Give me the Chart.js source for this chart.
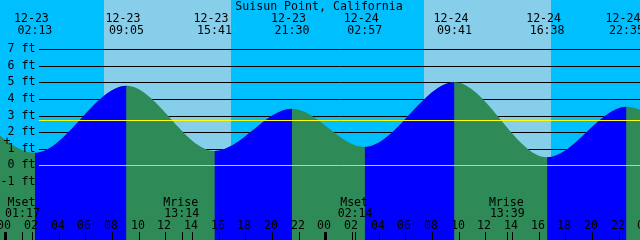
<!DOCTYPE html>
<html>
<head>
<meta charset="utf-8">
<script src="https://cdn.jsdelivr.net/npm/chart.js@4/dist/chart.umd.min.js"></script>
<style>
html,body{margin:0;padding:0;background:#00BFFF;}
canvas{display:block;}
</style>
</head>
<body>
<canvas id="c" width="640" height="240"></canvas>
<script>
// ---- data (hours counted from 12-23 00:00) ----
const title = 'Suisun Point, California';
const tideHours   = [-9.9, -3.9, 2.217, 9.083, 15.683, 21.5, 26.95, 33.683, 40.633, 46.583, 52.4, 58.6];
const tideHeights = [0.9, 3.4, 0.75, 4.8, 0.87, 3.42, 1.11, 5.01, 0.48, 3.53, 1.4, 5.0];
const eventDates  = ['12-23','12-23','12-23','12-23','12-24','12-24','12-24','12-24'];
const eventTimes  = ['02:13','09:05','15:41','21:30','02:57','09:41','16:38','22:35'];
const eventHours  = [2.217, 9.083, 15.683, 21.5, 26.95, 33.683, 40.633, 46.583];
const moonLabels  = ['Mset','Mrise','Mset','Mrise'];
const moonTimes   = ['01:17','13:14','02:14','13:39'];
const moonHours   = [1.283, 13.233, 26.233, 37.65];
const dayStart    = [7.4, 31.4];
const dayEnd      = [16.93, 40.93];
const yTicks      = [7, 6, 5, 4, 3, 2, 1, 0, -1];
const hourTicks   = [0,2,4,6,8,10,12,14,16,18,20,22,24,26,28,30,32,34,36,38,40,42,44,46,48];
const meanLevel   = 2.72;

const FONT = '11.6px "DejaVu Sans Mono", "Liberation Mono", monospace';
const NIGHT = '#00BFFF', DAY = '#87CEEB', RISE = '#0000FF', FALL = '#2E8B57';

const decor = {
  id: 'decor',
  beforeDatasetsDraw(chart) {
    const {ctx, chartArea: a, scales: {x, y}} = chart;
    ctx.save();
    ctx.fillStyle = NIGHT;
    ctx.fillRect(a.left, a.top, a.right - a.left, a.bottom - a.top);
    ctx.fillStyle = DAY;
    for (let i = 0; i < dayStart.length; i++) {
      const x0 = Math.round(x.getPixelForValue(dayStart[i]));
      const x1 = Math.round(x.getPixelForValue(dayEnd[i]));
      ctx.fillRect(x0, a.top, x1 - x0, a.bottom - a.top);
    }
    ctx.strokeStyle = '#000';
    ctx.lineWidth = 1;
    for (const v of yTicks) {
      if (v === 0) continue;
      const py = Math.round(y.getPixelForValue(v)) + 0.5;
      ctx.beginPath(); ctx.moveTo(39, py); ctx.lineTo(a.right, py); ctx.stroke();
    }
    ctx.restore();
  },
  afterDatasetsDraw(chart) {
    const {ctx, chartArea: a, scales: {x, y}} = chart;
    ctx.save();
    // zero line and mean line
    ctx.lineWidth = 1;
    ctx.strokeStyle = '#9ED4EC';
    let py = Math.round(y.getPixelForValue(0)) + 0.5;
    ctx.beginPath(); ctx.moveTo(39, py); ctx.lineTo(a.right, py); ctx.stroke();
    ctx.strokeStyle = '#FFFF00';
    py = Math.round(y.getPixelForValue(meanLevel)) + 0.5;
    ctx.beginPath(); ctx.moveTo(39, py); ctx.lineTo(a.right, py); ctx.stroke();

    ctx.fillStyle = '#000';
    ctx.font = FONT;
    // y labels
    ctx.textAlign = 'right';
    ctx.textBaseline = 'middle';
    for (const v of yTicks) {
      ctx.fillText(v + ' ft', 35.5, y.getPixelForValue(v));
    }
    ctx.textAlign = 'center';
    ctx.fillText('+', 7, y.getPixelForValue(1.4));
    // title
    ctx.textBaseline = 'alphabetic';
    ctx.fillText(title, 319, 10);
    // tide events
    for (let i = 0; i < eventHours.length; i++) {
      const px = x.getPixelForValue(eventHours[i]);
      ctx.fillText(eventDates[i], px - 3.5, 22);
      ctx.fillText(eventTimes[i], px, 34);
    }
    // moon events
    for (let i = 0; i < moonHours.length; i++) {
      const px = x.getPixelForValue(moonHours[i]);
      ctx.fillText(moonLabels[i], px - 1, 206);
      ctx.fillText(moonTimes[i], px, 217);
      ctx.fillRect(Math.round(px), 232, 1, 8);
    }
    // hour ticks
    for (const h of hourTicks) {
      const px = Math.round(x.getPixelForValue(h));
      const lab = String(h % 24).padStart(2, '0');
      ctx.fillText(lab, px - 1, 229);
      if (h % 24 === 0) ctx.fillRect(px - 1, 232, 3, 8);
      else ctx.fillRect(px, 232, 1, 8);
    }
    ctx.restore();
  }
};

const tidePoints = tideHours.map((h, i) => ({x: h, y: tideHeights[i]}));

new Chart(document.getElementById('c'), {
  type: 'line',
  data: {
    datasets: [{
      // rising parts (drawn on top)
      data: tidePoints,
      fill: 'start',
      backgroundColor: RISE,
      borderColor: 'transparent',
      borderWidth: 0,
      pointRadius: 0,
      cubicInterpolationMode: 'monotone',
      segment: {
        backgroundColor: c => c.p1.parsed.y > c.p0.parsed.y ? RISE : 'transparent'
      }
    }, {
      // whole water body in falling colour (drawn underneath)
      data: tidePoints,
      fill: 'start',
      backgroundColor: FALL,
      borderColor: 'transparent',
      borderWidth: 0,
      pointRadius: 0,
      cubicInterpolationMode: 'monotone'
    }]
  },
  options: {
    responsive: false,
    devicePixelRatio: 1,
    animation: false,
    layout: {padding: 0},
    events: [],
    plugins: {legend: {display: false}, tooltip: {enabled: false}},
    scales: {
      x: {type: 'linear', display: false, min: -0.4, max: 47.6},
      y: {type: 'linear', display: false, min: -4.508, max: 9.976}
    }
  },
  plugins: [decor]
});
</script>
</body>
</html>
